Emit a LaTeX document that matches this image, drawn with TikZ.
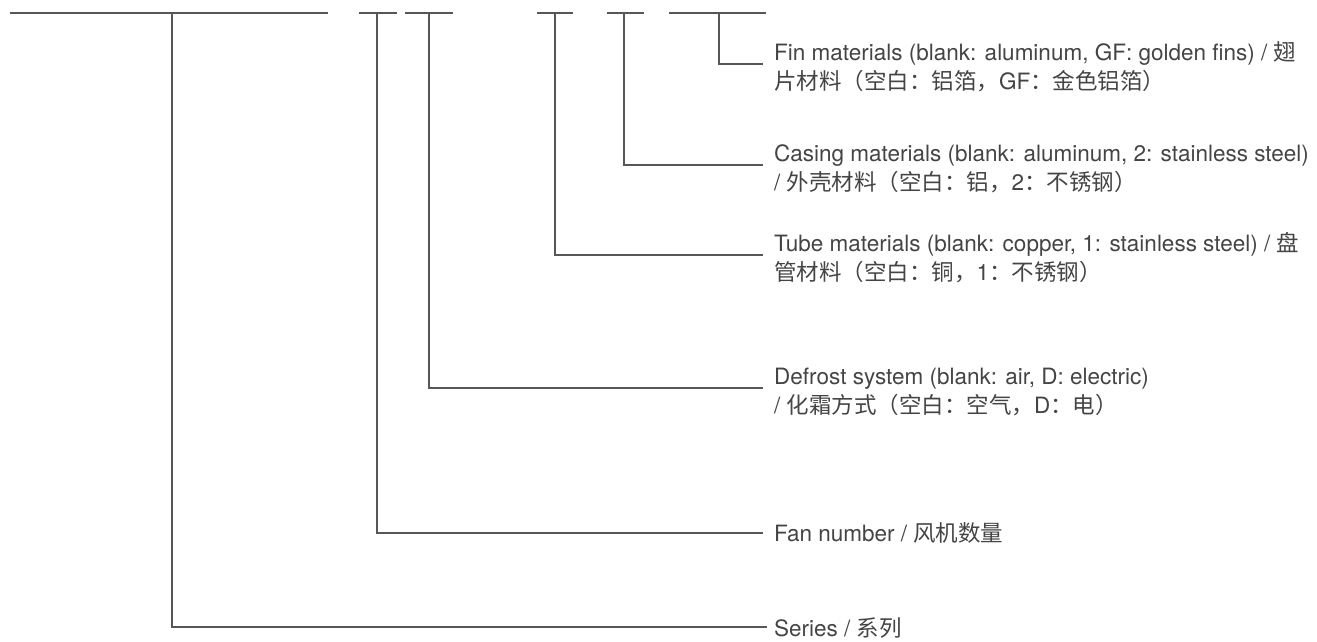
\documentclass[tikz,border=0pt]{standalone}
\usepackage{fontspec}
\setmainfont{TeX Gyre Heros}
\newfontfamily\zhfont{Noto Sans CJK SC}
\usepackage{xcolor}
\usepackage{tikz}
\usetikzlibrary{positioning}
\definecolor{codegray}{HTML}{55575A}
\definecolor{codetext}{HTML}{444444}
\tikzset{
  wire/.style={draw=codegray,line width=2.7pt},
  note/.style={anchor=base west,inner sep=0pt,align=left,text=codetext,font=\fontsize{22.5}{28.5}\selectfont},
}

\begin{document}
\begin{tikzpicture}[x=1pt,y=-1pt]
  \useasboundingbox (0,0) rectangle (1317,642);
  % code fields along the top
  \coordinate (s1a) at (10,13);  \coordinate (s1b) at (328,13);
  \coordinate (s2a) at (359,13); \coordinate (s2b) at (397,13);
  \coordinate (s3a) at (405,13); \coordinate (s3b) at (453,13);
  \coordinate (s4a) at (537,13); \coordinate (s4b) at (573,13);
  \coordinate (s5a) at (607,13); \coordinate (s5b) at (644,13);
  \coordinate (s6a) at (669,13); \coordinate (s6b) at (766,13);
  \draw[wire] (s1a)--(s1b); \draw[wire] (s2a)--(s2b); \draw[wire] (s3a)--(s3b);
  \draw[wire] (s4a)--(s4b); \draw[wire] (s5a)--(s5b); \draw[wire] (s6a)--(s6b);
  % taps under each field
  \coordinate (t1) at (172,13); \coordinate (t2) at (377,13); \coordinate (t3) at (429,13);
  \coordinate (t4) at (555,13); \coordinate (t5) at (624,13); \coordinate (t6) at (719,13);
  % labels (two-line ones sit on their second baseline)
  \node[note] (fin) at (774,89) {Fin materials (blank: aluminum, GF: golden fins) / {\zhfont 翅}\\{\zhfont 片材料（空白：铝箔，}GF{\zhfont ：金色铝箔）}};
  \node[note] (casing) at (774,190) {Casing materials (blank: aluminum, 2: stainless steel)\\/ {\zhfont 外壳材料（空白：铝，}2{\zhfont ：不锈钢）}};
  \node[note] (tube) at (774,280) {Tube materials (blank: copper, 1: stainless steel) / {\zhfont 盘}\\{\zhfont 管材料（空白：铜，}1{\zhfont ：不锈钢）}};
  \node[note] (defrost) at (774,413) {Defrost system (blank: air, D: electric)\\/ {\zhfont 化霜方式（空白：空气，}D{\zhfont ：电）}};
  \node[note] (fan) at (774,541) {Fan number / {\zhfont 风机数量}};
  \node[note] (series) at (774,636) {Series / {\zhfont 系列}};
  % leaders
  \draw[wire] (t6) |- ([xshift=-11pt,yshift=25pt]fin.base west);
  \draw[wire] (t5) |- ([xshift=-11pt,yshift=25pt]casing.base west);
  \draw[wire] (t4) |- ([xshift=-11pt,yshift=25pt]tube.base west);
  \draw[wire] (t3) |- ([xshift=-11pt,yshift=25pt]defrost.base west);
  \draw[wire] (t2) |- ([xshift=-11pt,yshift=8pt]fan.base west);
  \draw[wire] (t1) |- ([xshift=-7pt,yshift=9pt]series.base west);
\end{tikzpicture}
\end{document}
